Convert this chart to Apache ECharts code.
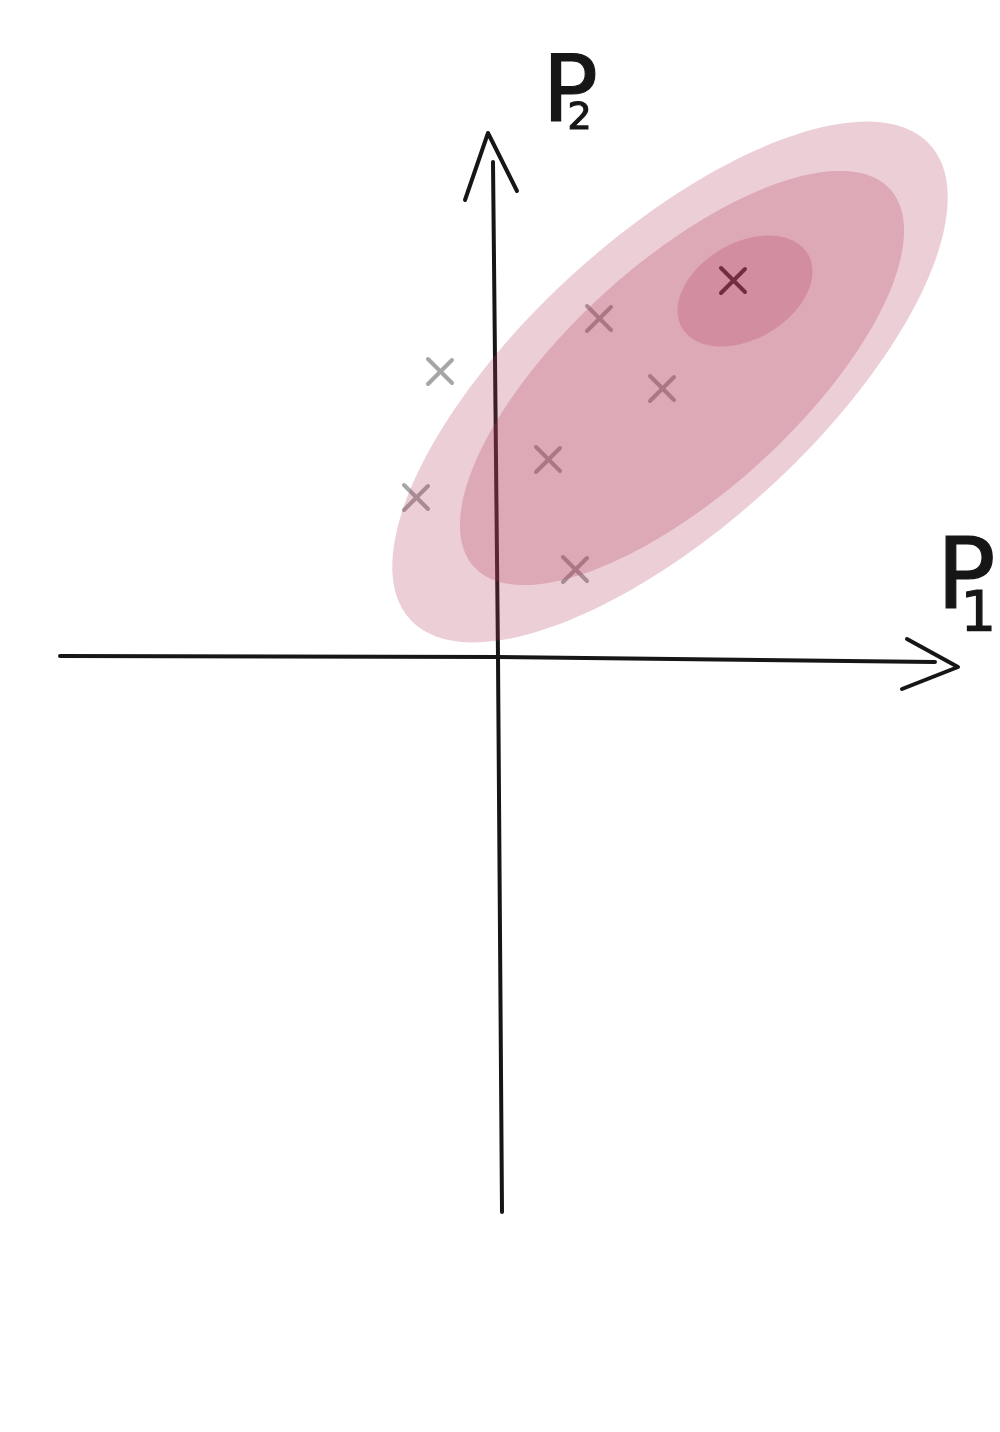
<!DOCTYPE html>
<html>
<head>
<meta charset="utf-8">
<script src="https://cdn.jsdelivr.net/npm/echarts@6/dist/echarts.min.js"></script>
<style>html,body{margin:0;padding:0;background:#fff}#chart{width:1000px;height:1432px}</style>
</head>
<body>
<div id="chart"></div>
<script>
// ---- data (units along P1 / P2) ----
const sampleP1 = [-0.58, -0.82, 0.50, 1.01, 1.64, 0.77];
const sampleP2 = [ 2.86,  1.60, 1.98, 3.39, 2.69, 0.88];
const bestP1 = [2.35];
const bestP2 = [3.77];
// density contours (ellipses): centre, semi-axes, tilt in degrees
const contourCenterP1 = [1.72, 1.84, 2.47];
const contourCenterP2 = [2.75, 2.79, 3.66];
const contourMajor = [3.52, 2.81, 0.73];
const contourMinor = [1.45, 1.15, 0.48];
const contourAngle = [42.4, 42.2, 30.4];
// hand drawn axes (polyline points)
const axisP1LineX = [-4.38, 0, 4.37];
const axisP1LineY = [0.01, 0, -0.05];
const axisP1HeadX = [4.09, 4.60, 4.04];
const axisP1HeadY = [0.18, -0.10, -0.32];
const axisP2LineX = [-0.05, 0, 0.04];
const axisP2LineY = [4.95, 0, -5.55];
const axisP2HeadX = [-0.33, -0.10, 0.19];
const axisP2HeadY = [4.57, 5.24, 4.66];
const axisNames = ['P', '1', 'P', '2'];

const zip = (a, b) => a.map((v, i) => [v, b[i]]);
const contours = contourCenterP1.map((v, i) => [v, contourCenterP2[i], contourMajor[i], contourMinor[i], contourAngle[i]]);

const chart = echarts.init(document.getElementById('chart'), null, {renderer: 'canvas'});

function crossRender(color) {
  return function (params, api) {
    const p = api.coord([api.value(0), api.value(1)]);
    const h = 12;
    return {
      type: 'group',
      children: [
        {type: 'line', shape: {x1: p[0] - h, y1: p[1] - h, x2: p[0] + h, y2: p[1] + h}, style: {stroke: color, lineWidth: 4, lineCap: 'round'}},
        {type: 'line', shape: {x1: p[0] + h, y1: p[1] - h + 1, x2: p[0] - h, y2: p[1] + h + 1}, style: {stroke: color, lineWidth: 4, lineCap: 'round'}}
      ]
    };
  };
}

function ellipseRender(params, api) {
  const cx = api.value(0), cy = api.value(1), a = api.value(2), b = api.value(3);
  const th = api.value(4) * Math.PI / 180;
  const pts = [];
  for (let k = 0; k < 180; k++) {
    const t = 2 * Math.PI * k / 180;
    const x = cx + a * Math.cos(t) * Math.cos(th) - b * Math.sin(t) * Math.sin(th);
    const y = cy + a * Math.cos(t) * Math.sin(th) + b * Math.sin(t) * Math.cos(th);
    pts.push(api.coord([x, y]));
  }
  return {type: 'polygon', shape: {points: pts}, style: {fill: 'rgba(180,60,90,0.25)'}};
}

const axisStyle = {color: '#161616', width: 4, cap: 'round', join: 'round'};
const labelStyle = (text, size) => ({text: text, font: size + 'px "DejaVu Sans"', fill: '#161616', stroke: '#161616', lineWidth: 1.2});

const option = {
  animation: false,
  backgroundColor: '#ffffff',
  grid: {left: 60, right: 40, top: 130, bottom: 218},
  xAxis: {type: 'value', min: -4.38, max: 4.62, show: false},
  yAxis: {type: 'value', min: -5.57, max: 5.27, show: false},
  series: [
    {type: 'line', data: zip(axisP1LineX, axisP1LineY), symbol: 'none', lineStyle: axisStyle, clip: false, z: 1},
    {type: 'line', data: zip(axisP1HeadX, axisP1HeadY), symbol: 'none', lineStyle: axisStyle, clip: false, z: 1},
    {type: 'line', data: zip(axisP2LineX, axisP2LineY), symbol: 'none', lineStyle: axisStyle, clip: false, z: 1},
    {type: 'line', data: zip(axisP2HeadX, axisP2HeadY), symbol: 'none', lineStyle: axisStyle, clip: false, z: 1},
    {type: 'custom', data: zip(sampleP1, sampleP2), renderItem: crossRender('#a6a6a6'), clip: false, z: 2},
    {type: 'custom', data: zip(bestP1, bestP2), renderItem: crossRender('#1a1a1a'), clip: false, z: 2},
    {type: 'custom', data: contours, renderItem: ellipseRender, clip: false, z: 3}
  ],
  graphic: [
    {type: 'text', left: 542, top: 50, z: 10, style: labelStyle(axisNames[2], 92)},
    {type: 'text', left: 567, top: 100, z: 10, style: labelStyle(axisNames[3], 38)},
    {type: 'text', left: 936, top: 533, z: 10, style: labelStyle(axisNames[0], 98)},
    {type: 'text', left: 960, top: 587, z: 10, style: labelStyle(axisNames[1], 56)}
  ]
};
chart.setOption(option);
</script>
</body>
</html>
